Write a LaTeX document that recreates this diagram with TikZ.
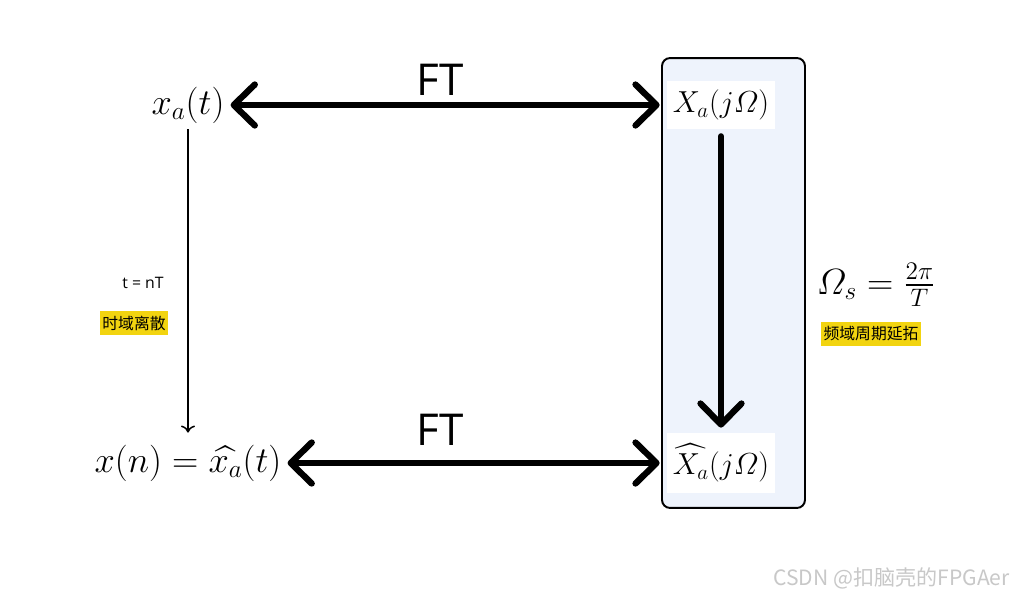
\documentclass[tikz,border=0pt]{standalone}
\usepackage{amsmath}
\usepackage{fontspec}
\newfontfamily\cjk{Noto Sans CJK SC}
\newfontfamily\ftfont{Open Sans}
\usetikzlibrary{arrows.meta}
\definecolor{panelblue}{RGB}{238,243,252}
\definecolor{hlyellow}{RGB}{242,212,16}
\definecolor{markgray}{RGB}{200,200,200}
\tikzset{barb/.tip={Straight Barb[round,length=0.42cm,width=0.82cm]}}
\tikzstyle{biline} = [draw, line width=3.6pt, line cap=round, barb-barb]
\tikzstyle{downline} = [draw, line width=3.6pt, line cap=round, -barb]
\tikzstyle{thinline} = [draw, line width=0.85pt, -{To[length=4pt,width=8pt]}]
\tikzstyle{sym} = [font=\fontsize{20.74}{24}\selectfont]
\tikzstyle{spec} = [font=\fontsize{17.28}{21}\selectfont, fill=white, minimum width=2.16cm, minimum height=0.96cm, inner sep=0pt]
\tikzstyle{panel} = [draw, line width=1.1pt, rounded corners=0.16cm, fill=panelblue, minimum width=2.86cm, minimum height=9cm]
\tikzstyle{ftlabel} = [font=\ftfont\fontsize{25}{30}\selectfont]
\tikzstyle{note} = [font=\ftfont\fontsize{9}{11}\selectfont]
\tikzstyle{hilite} = [fill=hlyellow, font=\cjk\fontsize{9}{11}\selectfont, inner xsep=1.2pt, inner ysep=0pt, minimum height=13.6pt]

\begin{document}
\begin{tikzpicture}[x=0.02cm, y=-0.02cm]
        \useasboundingbox[fill=white] (0,0) rectangle (1019,596);
        \node[panel] (freq) at (733.5,283) {};
        \node[sym] (xa) at (188,105) {$x_a(t)$};
        \node[sym] (xn) at (188,463) {$x(n)=\widehat{x_a}(t)$};
        \node[spec] (Xa) at (721,105) {$X_a(j\varOmega)$};
        \node[spec, minimum height=1.2cm] (Xh) at (721,463) {$\widehat{X_a}(j\varOmega)$};
        \node[ftlabel] (ft1) at (440,80) {FT};
        \node[ftlabel] (ft2) at (440,430) {FT};
        \node[note] (samp) at (143,283) {t = nT};
        \node[hilite] (tdisc) at (134,323) {时域离散};
        \node[sym] (omega) at (876,285) {$\varOmega_s=\frac{2\pi}{T}$};
        \node[hilite] (fper) at (871,334) {频域周期延拓};
        \node[anchor=east, text=markgray, font=\cjk\fontsize{12}{14}\selectfont] (wm) at (1016,578) {CSDN @扣脑壳的FPGAer};
        \path[biline, shorten >=0.14cm] (xa.east) -- (Xa.west);
        \path[biline, shorten >=0.14cm] (xn.east) -- (Xh.west);
        \path[downline, shorten <=0.14cm, shorten >=0.1cm] (Xa.south) -- (Xh.north);
        \path[thinline, shorten >=0.12cm] (xa.south) -- (xn.north);
    \end{tikzpicture}
\end{document}
